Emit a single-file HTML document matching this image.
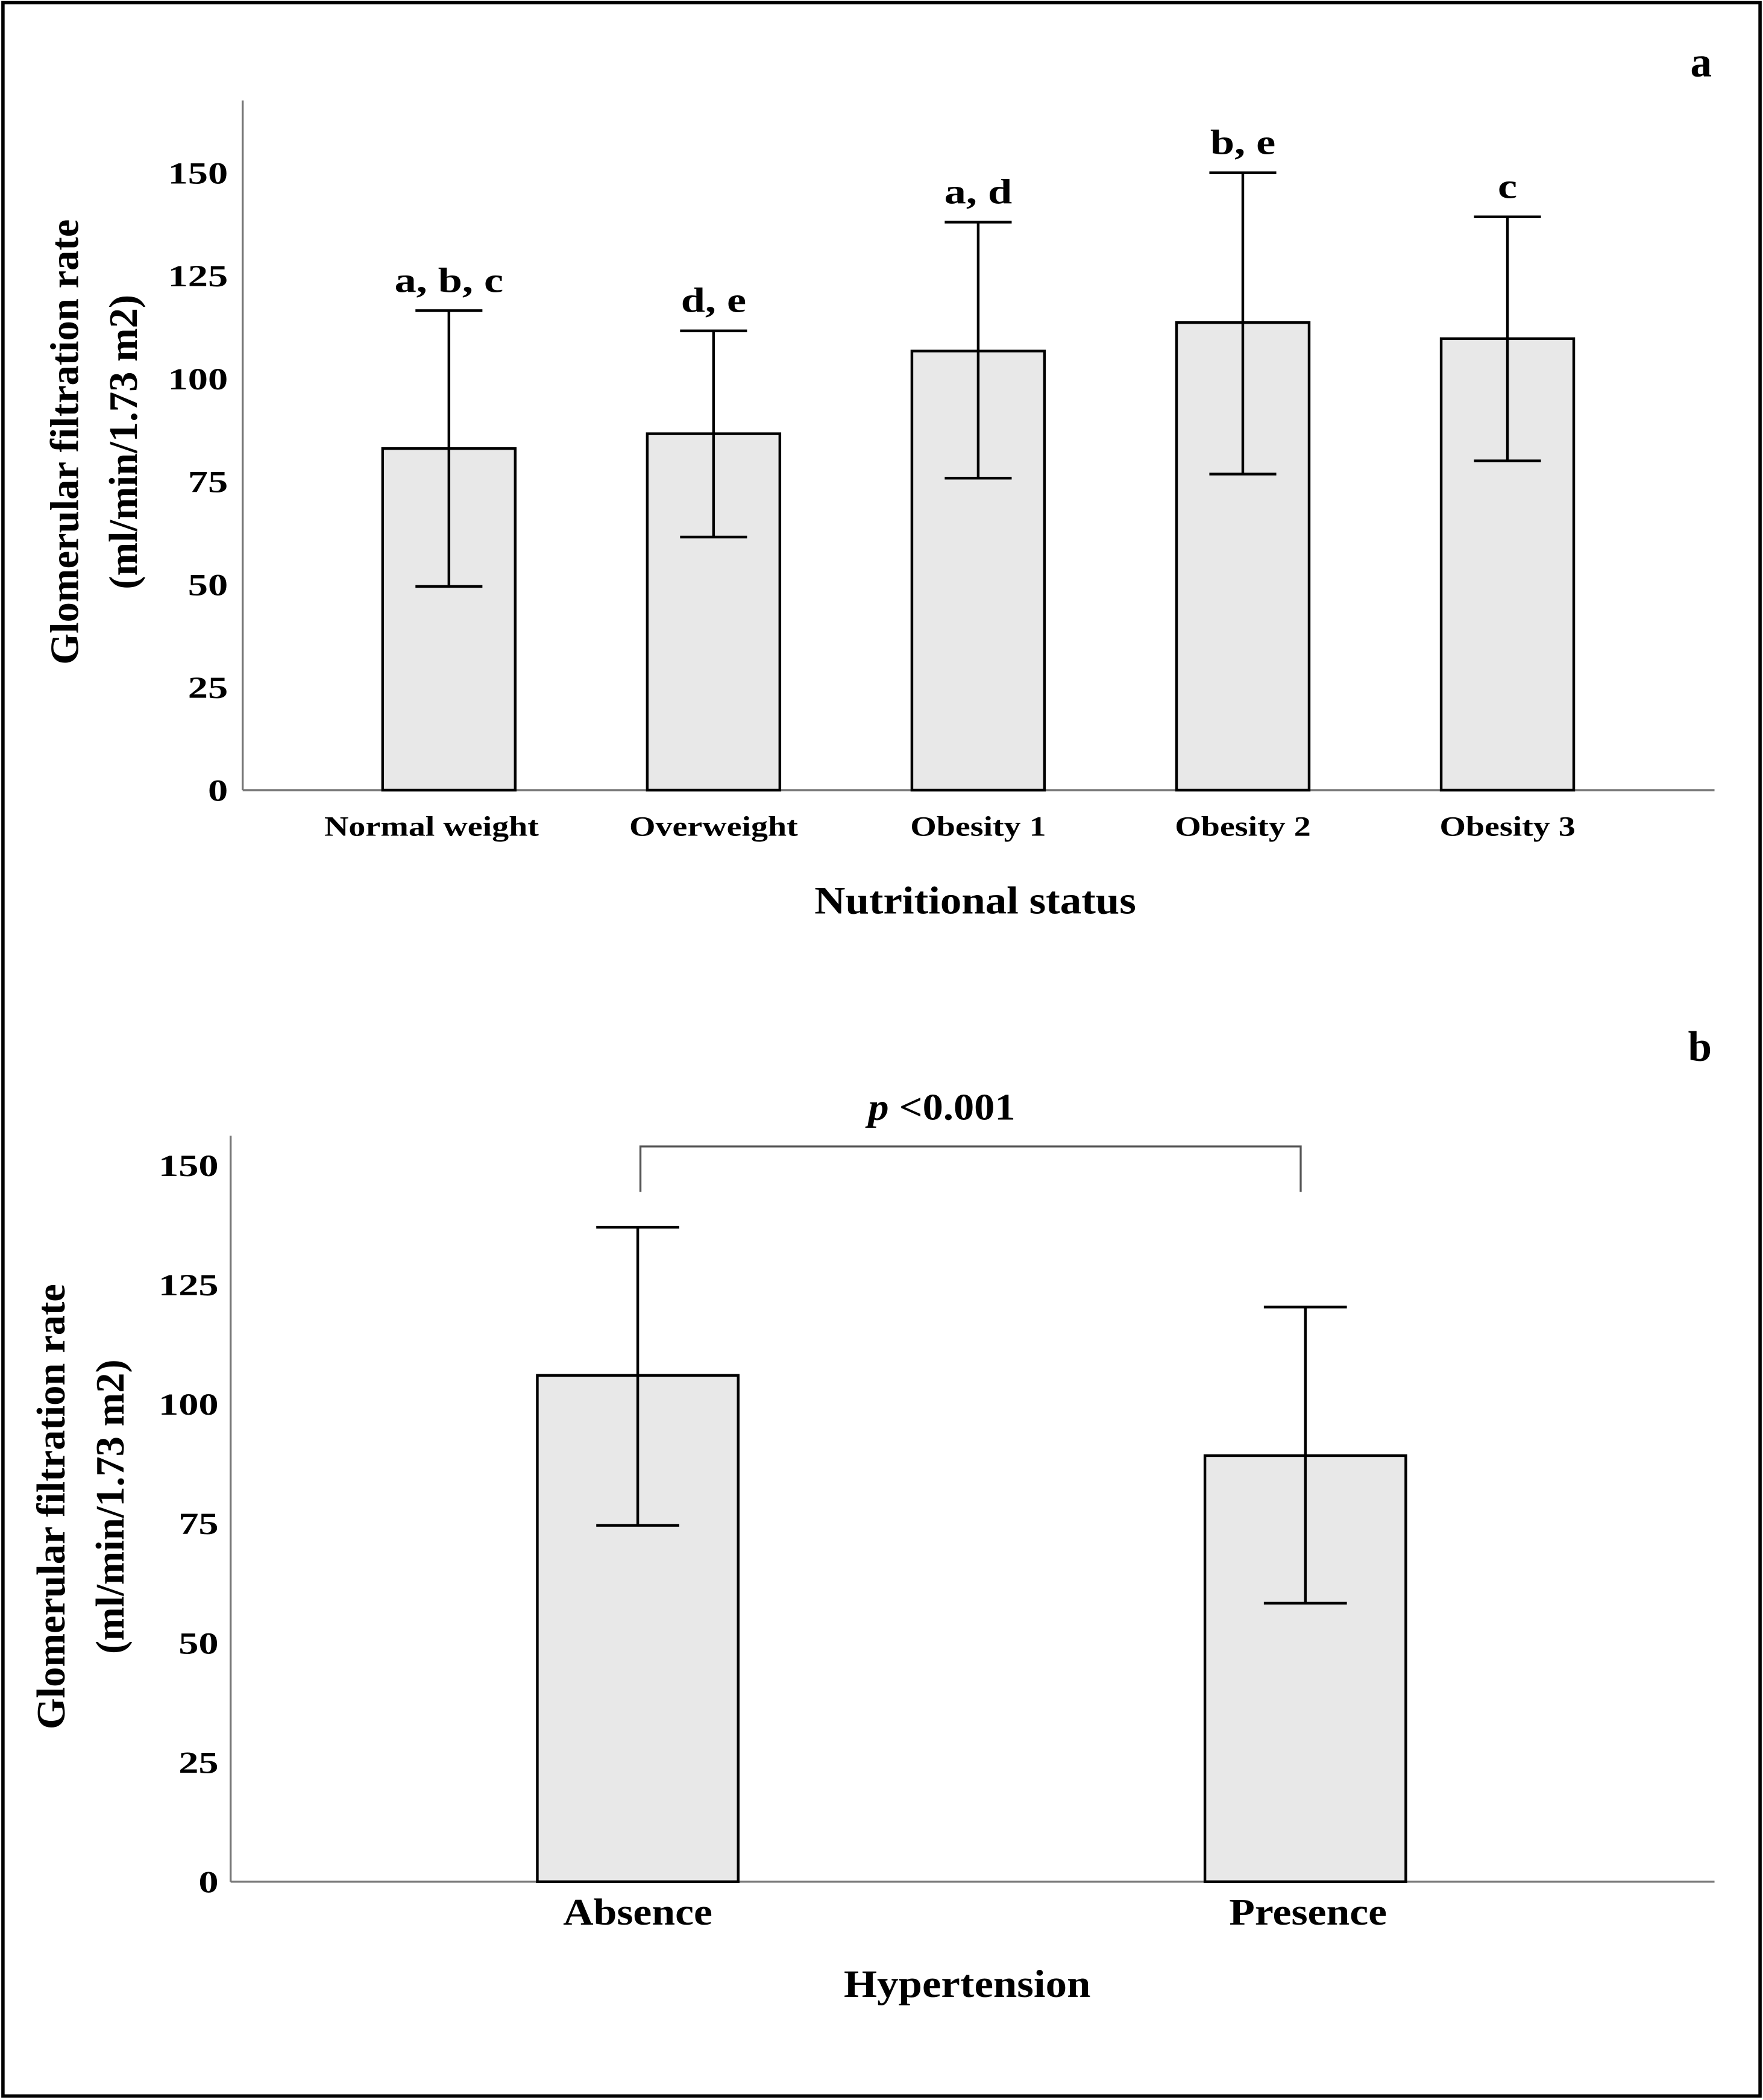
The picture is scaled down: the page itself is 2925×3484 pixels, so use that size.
<!DOCTYPE html>
<html><head><meta charset="utf-8"><style>
html,body{margin:0;padding:0;background:#fff}
svg{display:block}
text{font-family:"Liberation Serif",serif;font-weight:bold;fill:#000}
</style></head><body>
<svg id="fig" width="2925" height="3484" viewBox="0 0 1316 1568" xmlns="http://www.w3.org/2000/svg">
<rect x="2" y="2" width="1312" height="1563" fill="#fff" stroke="#000" stroke-width="2.5"/>
<g id="pa"></g>
<g id="pb"></g>
</svg>
<script>
const catsA=["Normal weight","Overweight","Obesity 1","Obesity 2","Obesity 3"];
const meansA=[83,86.6,106.7,113.6,109.7];
const upperA=[116.5,111.6,138,150,139.3];
const lowerA=[49.5,61.5,75.8,76.8,80];
const sigA=["a, b, c","d, e","a, d","b, e","c"];
const catsB=["Absence","Presence"];
const meansB=[106,89.2];
const upperB=[137,120.3];
const lowerB=[74.6,58.3];
const ticks=[0,25,50,75,100,125,150];
const NS="http://www.w3.org/2000/svg";
function mk(p,t,a,txt){const e=document.createElementNS(NS,t);for(const k in a)e.setAttribute(k,a[k]);if(txt!==undefined)e.textContent=txt;p.appendChild(e);return e;}
function st(p,x,y,sx,anchor,fs,txt){return mk(p,'text',{transform:`translate(${x},${y}) scale(${sx},1)`,'text-anchor':anchor,'font-size':fs},txt);}
function panel(g,o){
 const y=v=>o.y0-(o.y0-o.y150)*v/150;
 const x=i=>o.xc0+i*o.step;
 let e=mk(g,'line',{x1:o.ax,y1:o.ytop,x2:o.ax,y2:o.y0,stroke:'#777','stroke-width':1.5});
 
 e=mk(g,'line',{x1:o.ax,y1:o.y0,x2:1280,y2:o.y0,stroke:'#777','stroke-width':1.5});
 
 ticks.forEach(t=>{
  e=st(g,o.ax-o.tickOff,y(t)+8,1.3,'end',23,t);
  
 });
 o.cats.forEach((c,i)=>{
  const cx=x(i);
  e=mk(g,'rect',{x:cx-o.bw/2,y:y(o.means[i]),width:o.bw,height:o.y0-y(o.means[i]),fill:'#e8e8e8',stroke:'#000','stroke-width':2});
  
  e=mk(g,'path',{d:`M${cx},${y(o.upper[i])}V${y(o.lower[i])}M${cx-o.cw/2},${y(o.upper[i])}H${cx+o.cw/2}M${cx-o.cw/2},${y(o.lower[i])}H${cx+o.cw/2}`,stroke:'#000','stroke-width':2,fill:'none'});
  
  e=st(g,cx+o.labDx[i],o.labY,o.labSx,'middle',o.labFs,c);
  
  if(o.sig){e=st(g,cx,y(o.upper[i])-14,1.25,'middle',26,o.sig[i]);
  }
 });
 e=st(g,o.xtx,o.xty,1.1,'middle',29,o.xtitle);
 
 e=mk(g,'text',{transform:`translate(${o.ytx},${o.yty}) rotate(-90)`,'text-anchor':'middle','font-size':30},'Glomerular filtration rate');
 
 e=mk(g,'text',{transform:`translate(${o.ytx+44},${o.yty}) rotate(-90)`,'text-anchor':'middle','font-size':30},'(ml/min/1.73 m2)');
 
 e=mk(g,'text',{x:1278,y:o.py,'text-anchor':'end','font-size':32},o.plabel);
 
 return y;
}
panel(document.getElementById('pa'),{ax:181,ytop:75,y0:590,y150:129,xc0:335,step:197.6,bw:99,cw:50,cats:catsA,means:meansA,upper:upperA,lower:lowerA,sig:sigA,labY:624,labFs:21,labSx:1.2,labDx:[-13,0,0,0,0],xtitle:'Nutritional status',xtx:728,xty:682,ytx:58,yty:330,py:57,plabel:'a',tickOff:11});
const yb=panel(document.getElementById('pb'),{ax:172,ytop:848,y0:1405,y150:870,xc0:476,step:498.5,bw:150,cw:62,cats:catsB,means:meansB,upper:upperB,lower:lowerB,sig:null,labY:1437,labFs:28,labSx:1.12,labDx:[0,2],xtitle:'Hypertension',xtx:722,xty:1491,ytx:48,yty:1125,py:792,plabel:'b',tickOff:9});
const pb=document.getElementById('pb');
let br=mk(pb,'path',{d:'M478,890V856H971V890',stroke:'#555','stroke-width':1.5,fill:'none'});


let pt=mk(pb,'text',{transform:'translate(703,836) scale(1.1,1)','text-anchor':'middle','font-size':28});


mk(pt,'tspan',{'font-style':'italic'},'p');
mk(pt,'tspan',{},' <0.001');
</script>
</body></html>
